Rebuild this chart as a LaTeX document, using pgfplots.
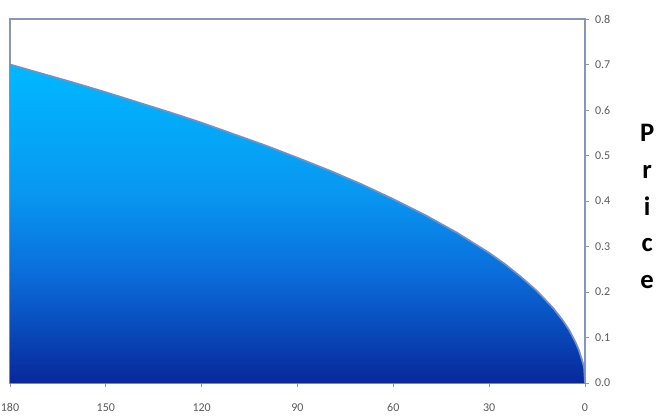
\documentclass[border=0pt]{standalone}
\usepackage{fontspec}
\setmainfont{Carlito}
\usepackage{pgfplots}
\pgfplotsset{compat=1.18}
\definecolor{axcol}{RGB}{134,150,180}
\definecolor{tickcol}{RGB}{89,89,89}
\definecolor{topc}{RGB}{0,184,255}
\definecolor{lightc}{RGB}{8,152,242}
\definecolor{midc}{RGB}{10,108,218}
\definecolor{botc}{RGB}{8,40,155}
\definecolor{edgec}{RGB}{115,145,200}
\pgfdeclareverticalshading{areashade}{100bp}{color(0bp)=(botc); color(25bp)=(botc); color(42bp)=(midc); color(55bp)=(lightc); color(75bp)=(topc); color(100bp)=(topc)}
\begin{document}
\begin{tikzpicture}
\useasboundingbox (-7.5pt,-24pt) rectangle (485.25pt,287.25pt);
\begin{axis}[
  at={(0,0)}, anchor=south west,
  scale only axis, width=431.25pt, height=273pt,
  x dir=reverse,
  xmin=0, xmax=180, ymin=0, ymax=0.8,
  xtick={0,30,60,90,120,150,180},
  ytick={0,0.1,0.2,0.3,0.4,0.5,0.6,0.7,0.8},
  yticklabel pos=right, ytick pos=right, xtick pos=bottom,
  tick align=outside, major tick length=3pt,
  axis line style={axcol, line width=0.9pt},
  every tick/.style={axcol, line width=0.6pt},
  tick label style={font=\fontsize{9}{11}\selectfont, text=tickcol},
  /pgf/number format/assume math mode=true,
  yticklabel style={xshift=1pt, /pgf/number format/.cd, fixed, fixed zerofill, precision=1},
  xticklabel style={yshift=-9pt},
  ylabel={P\\r\\i\\c\\e},
  ylabel style={rotate=-90, align=center, font=\fontsize{20}{27.5}\selectfont\bfseries,
    at={(rel axis cs:1.108,0.485)}, anchor=center},
  clip=false,
]
\addplot[draw=none, shading=areashade] table {
x y
180 0.700
170 0.680
160 0.660
150 0.639
140 0.617
130 0.595
120 0.572
110 0.547
100 0.522
90 0.495
80 0.467
70 0.437
60 0.404
50 0.369
40 0.330
30 0.286
25 0.261
20 0.233
15 0.202
10 0.165
7 0.138
5 0.117
3 0.090
2 0.074
1 0.052
0.3 0.035
0 0.0
} \closedcycle;
\addplot[edgec, line width=1.3pt] table {
x y
180 0.700
170 0.680
160 0.660
150 0.639
140 0.617
130 0.595
120 0.572
110 0.547
100 0.522
90 0.495
80 0.467
70 0.437
60 0.404
50 0.369
40 0.330
30 0.286
25 0.261
20 0.233
15 0.202
10 0.165
7 0.138
5 0.117
3 0.090
2 0.074
1 0.052
0.3 0.035
0 0.0
};
\end{axis}
\end{tikzpicture}
\end{document}
